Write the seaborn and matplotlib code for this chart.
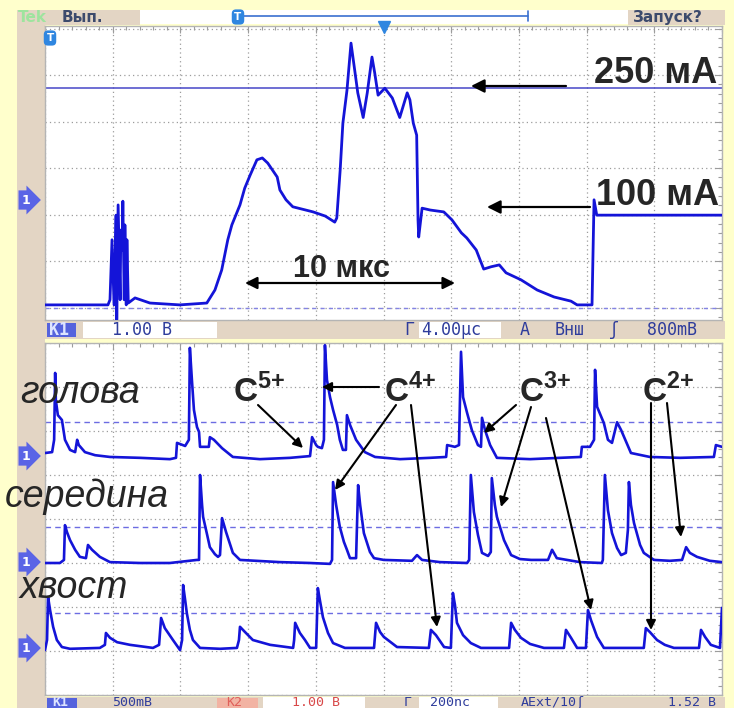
import numpy as np
import pandas as pd
import matplotlib
matplotlib.use("Agg")
import matplotlib.pyplot as plt
from matplotlib.patches import Rectangle, FancyArrowPatch
from matplotlib.lines import Line2D
import seaborn as sns

# ---------------- data ----------------
# upper oscillogram: beam current, 4.00 us/div, 1.00 V/div
top_t_us = [0.0, 3.72, 3.84, 3.96, 4.08, 4.20, 4.24, 4.32, 4.44, 4.48, 4.56, 4.60, 4.68, 4.72,
            4.80, 4.84, 4.92, 5.32, 6.20, 7.96, 9.56, 10.04, 10.44, 10.80, 11.04, 11.52, 11.80,
            12.12, 12.52, 12.84, 13.16, 13.72, 13.88, 14.24, 14.64, 15.84, 16.56, 17.12, 17.24,
            17.44, 17.60, 17.84, 18.08, 18.32, 18.48, 18.80, 19.04, 19.32, 19.48, 19.68, 20.08,
            20.52, 20.96, 21.40, 21.56, 21.76, 21.96, 22.04, 22.08, 22.28, 22.76, 23.56, 24.04,
            24.60, 24.92, 25.48, 25.92, 26.36, 26.84, 27.24, 28.12, 29.08, 30.08, 31.08, 31.44,
            32.32, 32.44, 32.60, 40.0]
top_v = [0.06, 0.06, 0.17, 1.46, 0.06, 1.99, -0.26, 2.21, 0.17, 1.67, 1.24, 2.29, 0.17, 1.78,
         0.06, 1.46, 0.10, 0.21, 0.10, 0.06, 0.10, 0.38, 0.81, 1.46, 1.78, 2.21, 2.57,
         2.85, 3.18, 3.22, 3.11, 2.81, 2.53, 2.32, 2.17, 2.06, 1.97, 1.84, 1.93,
         2.96, 3.97, 4.67, 5.69, 5.05, 4.62, 4.09, 4.62, 5.39, 5.05, 4.57, 4.72,
         4.51, 4.09, 4.62, 4.47, 3.97, 3.71, 1.89, 1.52, 2.14, 2.10, 2.06, 1.89,
         1.61, 1.50, 1.24, 0.83, 0.88, 0.92, 0.75, 0.60, 0.38, 0.23, 0.14, 0.06,
         0.06, 2.32, 1.99, 1.99]
level_250mA_v = 4.72
top_ground_v = 0.0

# lower oscillogram: 200 ns/div, values in screen divisions
head_t_ns = [0, 21, 27, 30, 32, 38, 50, 59, 74, 89, 95, 100, 118, 148, 192, 281, 369, 387,
             390, 414, 425, 428, 434, 440, 449, 455, 458, 473, 484, 487, 499, 523, 555, 635,
             724, 783, 789, 801, 806, 818, 824, 827, 833, 842, 851, 863, 871, 880, 889, 892,
             901, 919, 945, 975, 1049, 1137, 1185, 1188, 1211, 1223, 1229, 1235, 1247, 1261,
             1279, 1288, 1291, 1300, 1315, 1335, 1433, 1521, 1583, 1586, 1610, 1622, 1625,
             1631, 1651, 1663, 1675, 1690, 1702, 1731, 1787, 1876, 1976, 1982, 2000]
head_div = [5.50, 5.52, 5.80, 7.32, 6.70, 6.36, 6.25, 5.80, 5.57, 5.52, 5.80, 5.68, 5.52, 5.45,
            5.41, 5.39, 5.36, 5.39, 5.73, 5.66, 5.80, 7.89, 7.16, 6.48, 6.09, 5.98, 5.64, 5.64,
            5.64, 5.86, 5.80, 5.61, 5.41, 5.36, 5.39, 5.43, 5.86, 5.68, 5.64, 5.61, 5.80, 7.95,
            7.16, 6.77, 6.48, 6.14, 5.80, 5.57, 5.57, 6.36, 6.14, 5.80, 5.52, 5.41, 5.36, 5.39,
            5.41, 5.68, 5.64, 5.68, 7.80, 6.77, 6.41, 6.02, 5.68, 5.64, 6.30, 6.02, 5.68, 5.39,
            5.36, 5.39, 5.41, 5.64, 5.64, 5.80, 7.39, 6.55, 6.18, 5.80, 5.73, 6.20, 6.02, 5.50,
            5.41, 5.39, 5.41, 5.68, 5.64]

middle_t_ns = [0, 44, 56, 59, 65, 74, 89, 103, 121, 127, 139, 162, 192, 281, 369, 449, 455, 458,
               464, 467, 479, 487, 502, 511, 517, 523, 535, 555, 576, 694, 783, 842, 848, 851,
               860, 871, 883, 892, 901, 919, 925, 931, 942, 960, 972, 1001, 1084, 1099, 1114,
               1167, 1247, 1253, 1258, 1267, 1279, 1291, 1309, 1317, 1320, 1329, 1335, 1356,
               1377, 1403, 1436, 1486, 1498, 1512, 1580, 1645, 1648, 1654, 1663, 1675, 1690,
               1702, 1716, 1722, 1725, 1731, 1740, 1758, 1769, 1799, 1846, 1882, 1894, 1905,
               1926, 1964, 2000]
middle_div = [3.00, 3.00, 3.07, 3.86, 3.70, 3.52, 3.30, 3.14, 3.11, 3.41, 3.30, 3.14, 3.02, 3.00,
              3.00, 3.07, 3.07, 5.00, 4.32, 4.05, 3.64, 3.36, 3.20, 3.14, 3.18, 4.02, 3.70, 3.23,
              3.07, 3.02, 3.00, 2.98, 3.07, 4.84, 4.32, 3.82, 3.48, 3.30, 3.11, 3.11, 4.77, 4.32,
              3.68, 3.25, 3.11, 3.07, 3.05, 3.18, 3.07, 3.02, 3.00, 3.07, 5.00, 4.16, 3.64, 3.23,
              3.16, 3.25, 4.93, 4.32, 4.05, 3.52, 3.18, 3.09, 3.07, 3.07, 3.30, 3.11, 3.02, 3.00,
              3.07, 5.00, 4.20, 3.68, 3.34, 3.18, 3.23, 3.75, 4.84, 4.32, 3.91, 3.41, 3.23, 3.07,
              3.05, 3.07, 3.36, 3.23, 3.14, 3.05, 3.02]

tail_t_ns = [0, 6, 9, 15, 24, 35, 50, 74, 162, 177, 180, 192, 213, 251, 319, 337, 343, 354, 378,
             399, 405, 408, 414, 419, 428, 437, 458, 517, 567, 573, 576, 591, 614, 665, 733, 736,
             739, 753, 768, 783, 801, 806, 812, 821, 836, 851, 886, 972, 978, 990, 1001, 1040,
             1134, 1140, 1155, 1179, 1199, 1205, 1211, 1217, 1235, 1258, 1288, 1371, 1377, 1388,
             1406, 1433, 1474, 1533, 1539, 1554, 1572, 1598, 1604, 1613, 1631, 1651, 1769, 1775,
             1787, 1808, 1831, 1858, 1932, 1938, 1950, 1967, 1994, 2000]
tail_div = [1.02, 1.25, 2.23, 1.93, 1.55, 1.25, 1.09, 1.05, 1.07, 1.14, 1.41, 1.30, 1.20, 1.14,
            1.07, 1.14, 1.75, 1.52, 1.25, 1.02, 1.25, 2.50, 2.16, 1.86, 1.48, 1.25, 1.07, 1.05,
            1.07, 1.25, 1.55, 1.43, 1.25, 1.14, 1.07, 1.25, 1.64, 1.41, 1.25, 1.07, 1.07, 2.43,
            2.16, 1.77, 1.41, 1.18, 1.07, 1.07, 1.64, 1.43, 1.32, 1.09, 1.07, 1.48, 1.36, 1.09,
            1.07, 2.32, 2.05, 1.64, 1.36, 1.18, 1.07, 1.07, 1.64, 1.48, 1.30, 1.16, 1.07, 1.07,
            1.48, 1.30, 1.07, 1.07, 1.93, 1.70, 1.32, 1.07, 1.07, 1.52, 1.43, 1.25, 1.14, 1.07,
            1.07, 1.48, 1.32, 1.14, 1.07, 1.98]
ref_levels_div = [6.20, 3.82, 1.86]

trace_names = ["голова", "середина", "хвост"]
ion_labels = ["5+", "4+", "3+", "2+"]

# ---------------- style ----------------
sns.set_theme(style="white")
plt.rcParams["font.family"] = ["Liberation Sans", "DejaVu Sans"]
plt.rcParams["mathtext.fontset"] = "custom"
plt.rcParams["mathtext.bf"] = "Liberation Sans:bold"
plt.rcParams["mathtext.rm"] = "Liberation Sans"

W, H = 734, 708
BG = "#FFFFCC"
BEIGE = "#E3D5C4"
TRACE = "#1414D8"
STAT = "#2E3C9C"
GRID = "#9C9C9C"

fig = plt.figure(figsize=(W / 100, H / 100), dpi=100, facecolor=BG)


def fx(x):
    return x / W


def fy(y):
    return 1 - y / H


def rect(x0, y0, x1, y1, fc, ec="none", lw=0, z=-5):
    fig.patches.append(Rectangle((fx(x0), fy(y1)), (x1 - x0) / W, (y1 - y0) / H,
                                 transform=fig.transFigure, fc=fc, ec=ec, lw=lw, zorder=z))


def text(x, y, s, **kw):
    return fig.text(fx(x), fy(y), s, **kw)


def arrow(x0, y0, x1, y1, style="-|>", lw=1.6, ms=16):
    fig.add_artist(FancyArrowPatch((fx(x0), fy(y0)), (fx(x1), fy(y1)), transform=fig.transFigure,
                                   arrowstyle=style, mutation_scale=ms, lw=lw, color="black",
                                   shrinkA=0, shrinkB=0, zorder=6))


# frame of the scope screens
rect(17, 10, 140, 25, BEIGE)
rect(140, 10, 628, 24, "white")
rect(628, 10, 725, 25, BEIGE)
rect(17, 25, 45, 321, BEIGE)
rect(17, 321, 725, 339, BEIGE)
rect(83, 322, 217, 338, "white")
rect(419, 322, 501, 338, "white")
rect(17, 339, 45, 697, BEIGE)
rect(17, 697, 725, 708, BEIGE)
rect(263, 697, 365, 708, "white")
rect(419, 697, 498, 708, "white")
rect(47, 323, 76, 337, "#5563DD", z=-4)
rect(47, 698, 77, 708, "#5563DD", z=-4)
rect(217, 698, 258, 708, "#F2B3A3", z=-4)


def scope_axes(ax, xmax, ymin, ymax, xmaj, ymaj):
    ax.set_facecolor("white")
    ax.set_xlim(0, xmax)
    ax.set_ylim(ymin, ymax)
    ax.set_xticks(np.arange(0, xmax + 1e-9, xmaj))
    ax.set_xticks(np.arange(0, xmax + 1e-9, xmaj / 5), minor=True)
    ax.set_yticks(np.arange(np.ceil(ymin), ymax + 1e-9, ymaj))
    ax.set_yticks(np.arange(np.ceil(ymin * 5) / 5, ymax + 1e-9, ymaj / 5), minor=True)
    ax.tick_params(which="both", direction="in", top=True, right=True, labelbottom=False,
                   labelleft=False, color=GRID, width=0.8)
    ax.tick_params(which="major", length=5)
    ax.tick_params(which="minor", length=3)
    ax.grid(True, which="major", color=GRID, linestyle=(0, (1, 2.5)), lw=0.9)
    for s in ax.spines.values():
        s.set_color("#B4B4B4")
        s.set_linewidth(1.0)


# ---------------- upper oscillogram ----------------
ax1 = fig.add_axes([fx(45), fy(320), 677 / W, 294 / H])
scope_axes(ax1, 40, -0.265, 6.058, 4, 1)
ax1.axhline(top_ground_v, color="#8484E4", ls=(0, (3, 3)), lw=1.0, zorder=1)
ax1.axhline(level_250mA_v, color="#4646C8", lw=1.1, zorder=1)
sns.lineplot(x=top_t_us, y=top_v, ax=ax1, color=TRACE, lw=2.0, estimator=None, sort=False, zorder=3)
ax1.set_xlabel("")
ax1.set_ylabel("")

# ---------------- lower oscillogram ----------------
ax2 = fig.add_axes([fx(45), fy(695), 677 / W, 352 / H])
scope_axes(ax2, 2000, 0, 8, 200, 1)
for lv in ref_levels_div:
    ax2.axhline(lv, color="#6C6CE2", ls=(0, (4, 3)), lw=1.0, zorder=1)
for tt, yy in [(head_t_ns, head_div), (middle_t_ns, middle_div), (tail_t_ns, tail_div)]:
    sns.lineplot(x=tt, y=yy, ax=ax2, color=TRACE, lw=1.9, estimator=None, sort=False, zorder=3)
ax2.set_xlabel("")
ax2.set_ylabel("")

# ---------------- scope furniture ----------------
text(18, 17.5, "Tek", color="#9EE49E", fontsize=11, weight="bold", va="center", family="DejaVu Sans")
text(62, 17.5, "Вып.", color="#3C4A6C", fontsize=11, weight="bold", va="center", family="DejaVu Sans")
text(633, 17.5, "Запуск?", color="#3C4A6C", fontsize=11, weight="bold", va="center", family="DejaVu Sans")
fig.add_artist(Line2D([fx(238), fx(528)], [fy(15.5), fy(15.5)], transform=fig.transFigure,
                      color="#3A70D0", lw=1.2))
fig.add_artist(Line2D([fx(528), fx(528)], [fy(11), fy(21)], transform=fig.transFigure,
                      color="#3A70D0", lw=1.2))
for xx, yy in [(238, 17), (50, 38)]:
    text(xx, yy, "T", color="white", fontsize=7.5, weight="bold", ha="center", va="center",
         family="DejaVu Sans",
         bbox=dict(boxstyle="round,pad=0.25,rounding_size=0.4", fc="#2F86E0", ec="none"))
fig.add_artist(Line2D([fx(384)], [fy(27)], transform=fig.transFigure, marker="v",
                      color="#2F86E0", ms=8, lw=0))

for yy in [200, 456, 562, 648]:
    text(26, yy, "1", color="white", fontsize=9, weight="bold", ha="center", va="center",
         family="DejaVu Sans",
         bbox=dict(boxstyle="rarrow,pad=0.25", fc="#5A64E6", ec="none"))

mono = dict(family="DejaVu Sans Mono", fontsize=12, va="center", color=STAT)
text(49, 330, "K1", **{**mono, "color": "#DDE4FF", "weight": "bold"})
text(112, 330, "1.00 B", **mono)
text(404, 330, "Г", **mono)
text(421, 330, "4.00μc", **mono)
text(520, 330, "A", **mono)
text(555, 330, "Внш", **mono)
text(609, 330, "ʃ", **mono)
text(647, 330, "800mB", **mono)

monob = {**mono, "fontsize": 9.5}
y_b = 702.5
text(52, y_b, "K1", **{**monob, "color": "#DDE4FF", "weight": "bold"})
text(112, y_b, "500mB", **monob)
text(226, y_b, "K2", **{**monob, "color": "#E0605A"})
text(292, y_b, "1.00 B", **{**monob, "color": "#D84848"})
text(404, y_b, "Г", **monob)
text(430, y_b, "200nc", **monob)
text(521, y_b, "AExt/10ʃ", **monob)
text(668, y_b, "1.52 B", **monob)

# ---------------- annotations ----------------
text(594, 83, "250 мА", fontsize=26, weight="bold", va="baseline")
text(596, 205, "100 мА", fontsize=26, weight="bold", va="baseline")
text(293, 277, "10 мкс", fontsize=22, weight="bold", va="baseline")
arrow(566, 86, 471, 86, ms=20)
arrow(590, 207, 487, 207, ms=20)
arrow(245, 283, 455, 283, style="<|-|>", ms=18)

text(20, 403, trace_names[0], fontsize=27, style="italic", va="baseline")
text(5, 507, trace_names[1], fontsize=27, style="italic", va="baseline")
text(20, 598, trace_names[2], fontsize=27, style="italic", va="baseline")

for xx, lab in zip([233, 384, 519, 642], ion_labels):
    text(xx, 402, r"$\mathbf{C}^{\mathbf{" + lab[0] + "{" + lab[1] + r"}}}$", fontsize=24,
         va="baseline")

for (x0, y0, x1, y1) in [(258, 405, 303, 448), (379, 387, 322, 387), (396, 405, 335, 490),
                         (411, 405, 437, 627), (516, 405, 484, 433), (531, 407, 501, 507),
                         (546, 418, 591, 610), (651, 403, 651, 630), (667, 403, 681, 537)]:
    arrow(x0, y0, x1, y1, lw=1.5, ms=14)

fig.savefig("out.png", dpi=100, facecolor=BG)
